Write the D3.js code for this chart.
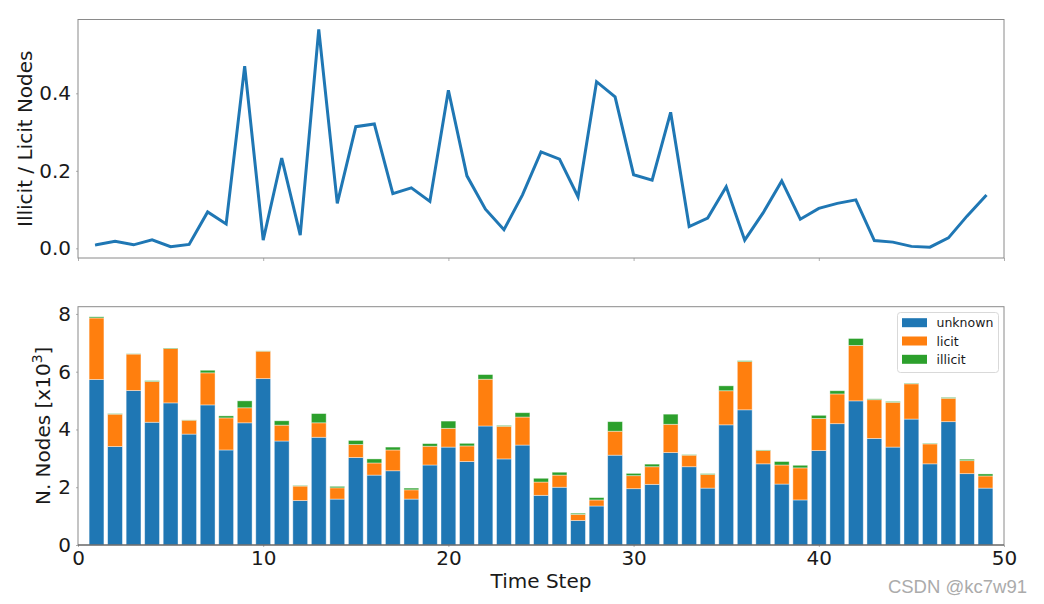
<!DOCTYPE html>
<html>
<head>
<meta charset="utf-8">
<script src="https://cdn.jsdelivr.net/npm/d3@7"></script>
<style>
  body { margin: 0; background: #fff; }
  svg { display: block; font-family: "DejaVu Sans", sans-serif; }
</style>
</head>
<body>
<svg id="chart" width="1044" height="604"></svg>
<script>
// ---- data ----
const timeSteps = d3.range(1, 50);
const ratio = [0.009, 0.018, 0.009, 0.022, 0.004, 0.010, 0.094, 0.063, 0.470, 0.021,
               0.233, 0.034, 0.565, 0.116, 0.314, 0.321, 0.141, 0.156, 0.121, 0.408,
               0.187, 0.101, 0.048, 0.138, 0.249, 0.230, 0.133, 0.430, 0.391, 0.190,
               0.176, 0.351, 0.056, 0.078, 0.159, 0.021, 0.092, 0.174, 0.075, 0.103,
               0.116, 0.125, 0.020, 0.016, 0.005, 0.003, 0.027, 0.083, 0.135];
const unknown = [5.73, 3.41, 5.35, 4.25, 4.92, 3.84, 4.85, 3.29, 4.23, 5.76,
                 3.60, 1.54, 3.73, 1.59, 3.03, 2.42, 2.57, 1.59, 2.77, 3.39,
                 2.89, 4.12, 2.98, 3.46, 1.72, 2.00, 0.85, 1.35, 3.11, 1.95,
                 2.10, 3.20, 2.71, 1.97, 4.16, 4.68, 2.81, 2.11, 1.56, 3.27,
                 4.20, 4.99, 3.69, 3.39, 4.36, 2.81, 4.27, 2.47, 1.97];
const licit = [2.13, 1.12, 1.26, 1.41, 1.88, 0.48, 1.11, 1.11, 0.52, 0.95,
               0.55, 0.50, 0.50, 0.39, 0.45, 0.42, 0.72, 0.32, 0.65, 0.65,
               0.54, 1.62, 1.13, 0.97, 0.46, 0.42, 0.21, 0.21, 0.83, 0.45,
               0.61, 0.98, 0.40, 0.47, 1.18, 1.67, 0.46, 0.66, 1.11, 1.11,
               1.03, 1.92, 1.34, 1.55, 1.22, 0.69, 0.81, 0.45, 0.42];
const illicit = [0.04, 0.02, 0.01, 0.03, 0.02, 0.01, 0.09, 0.07, 0.24, 0.01,
                 0.15, 0.02, 0.32, 0.05, 0.14, 0.14, 0.10, 0.06, 0.09, 0.25,
                 0.09, 0.16, 0.03, 0.15, 0.13, 0.10, 0.04, 0.08, 0.33, 0.08,
                 0.09, 0.35, 0.02, 0.03, 0.17, 0.03, 0.02, 0.12, 0.09, 0.11,
                 0.11, 0.24, 0.03, 0.03, 0.02, 0.02, 0.03, 0.05, 0.07];
const seriesNames = ["unknown", "licit", "illicit"];
const seriesColors = ["#1f77b4", "#ff7f0e", "#2ca02c"];
const xTicks = [0, 10, 20, 30, 40, 50];
const topYTicks = [0.0, 0.2, 0.4];
const bottomYTicks = [0, 2, 4, 6, 8];

// ---- layout ----
const svg = d3.select("#chart");
const L = 78, R = 1004;
const top1 = 19.5, bot1 = 258;
const top2 = 306.7, bot2 = 545;
const spine = "#8a8a8a";
const tickFont = 20;

const x = d3.scaleLinear().domain([0, 50]).range([L, R]);
const y1 = d3.scaleLinear().domain([-0.025, 0.5905]).range([bot1, top1]);
const y2 = d3.scaleLinear().domain([0, 8.25]).range([bot2, top2]);

function frame(t, b) {
  svg.append("rect").attr("x", L).attr("y", t).attr("width", R - L).attr("height", b - t)
    .attr("fill", "none").attr("stroke", spine).attr("stroke-width", 1);
}

function styleAxis(g) {
  g.select(".domain").remove();
  g.selectAll(".tick line").attr("stroke", "#b0b0b0");
  g.selectAll(".tick text").attr("fill", "#1a1a1a").attr("font-size", tickFont)
    .attr("font-family", "DejaVu Sans, sans-serif");
}

// ---- top chart: ratio line ----
svg.append("g").attr("transform", `translate(0,${bot1})`)
  .call(d3.axisBottom(x).tickValues(xTicks).tickFormat("").tickSize(3).tickSizeOuter(0))
  .call(styleAxis);
svg.append("g").attr("transform", `translate(${L},0)`)
  .call(d3.axisLeft(y1).tickValues(topYTicks).tickFormat(d3.format(".1f")).tickSize(2).tickPadding(5))
  .call(styleAxis);

const line = d3.line().x((d, i) => x(timeSteps[i])).y(d => y1(d));
svg.append("path").datum(ratio).attr("d", line)
  .attr("fill", "none").attr("stroke", "#1f77b4").attr("stroke-width", 3)
  .attr("stroke-linejoin", "miter").attr("stroke-linecap", "square");
frame(top1, bot1);

svg.append("text").attr("transform", `translate(32,${(top1 + bot1) / 2}) rotate(-90)`)
  .attr("text-anchor", "middle").attr("font-size", 20).attr("fill", "#1a1a1a")
  .text("Illicit / Licit Nodes");

// ---- bottom chart: stacked bars ----
const rows = timeSteps.map((t, i) => ({ t, unknown: unknown[i], licit: licit[i], illicit: illicit[i] }));
const stacked = d3.stack().keys(seriesNames)(rows);
const bw = x(0.8) - x(0);

svg.append("g").selectAll("g").data(stacked).join("g")
  .attr("fill", (d, i) => seriesColors[i])
  .selectAll("rect").data(d => d).join("rect")
  .attr("x", d => x(d.data.t) - bw / 2)
  .attr("width", bw)
  .attr("y", d => y2(d[1]))
  .attr("height", d => y2(d[0]) - y2(d[1]))
  .attr("stroke", "#ffffff").attr("stroke-opacity", 0.5).attr("stroke-width", 0.8);

svg.append("g").attr("transform", `translate(0,${bot2})`)
  .call(d3.axisBottom(x).tickValues(xTicks).tickFormat(d3.format("d")).tickSize(2).tickPadding(4))
  .call(styleAxis);
svg.append("g").attr("transform", `translate(${L},0)`)
  .call(d3.axisLeft(y2).tickValues(bottomYTicks).tickFormat(d3.format("d")).tickSize(2).tickPadding(5))
  .call(styleAxis);
frame(top2, bot2);
svg.append("line").attr("x1", L).attr("x2", R).attr("y1", bot2).attr("y2", bot2)
  .attr("stroke", "#555").attr("stroke-width", 1);

const yl = svg.append("text").attr("transform", `translate(50,${(top2 + bot2) / 2}) rotate(-90)`)
  .attr("text-anchor", "middle").attr("font-size", 20).attr("fill", "#1a1a1a");
yl.append("tspan").text("N. Nodes [x10");
yl.append("tspan").attr("font-size", 14).attr("dy", -8).text("3");
yl.append("tspan").attr("dy", 8).text("]");

svg.append("text").attr("x", (L + R) / 2).attr("y", 588)
  .attr("text-anchor", "middle").attr("font-size", 20).attr("fill", "#1a1a1a")
  .text("Time Step");

// ---- legend ----
const lg = svg.append("g");
lg.append("rect").attr("x", 897.5).attr("y", 312.5).attr("width", 101).attr("height", 60)
  .attr("rx", 3).attr("fill", "#fff").attr("fill-opacity", 0.8).attr("stroke", "#d9d9d9");
seriesNames.forEach((name, i) => {
  const cy = 322.7 + i * 18.3;
  lg.append("rect").attr("x", 902).attr("y", cy - 4.5).attr("width", 25).attr("height", 9)
    .attr("fill", seriesColors[i]);
  lg.append("text").attr("x", 936.5).attr("y", cy + 4.5).attr("font-size", 12.5)
    .attr("fill", "#1a1a1a").text(name);
});

// ---- watermark ----
svg.append("text").attr("x", 1027).attr("y", 593).attr("text-anchor", "end")
  .attr("font-family", "Liberation Sans, Arial, sans-serif").attr("font-size", 18.5)
  .attr("fill", "#ababab").text("CSDN @kc7w91");
</script>
</body>
</html>
